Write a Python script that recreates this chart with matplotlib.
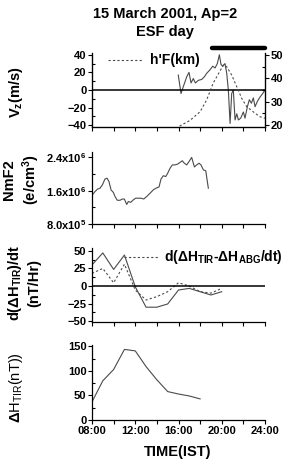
#!/usr/bin/env python3

import matplotlib
matplotlib.use("Agg")
import matplotlib.pyplot as plt
from matplotlib.lines import Line2D

plt.rcParams["font.family"] = ["Liberation Sans", "DejaVu Sans"]
plt.rcParams["font.weight"] = "bold"
plt.rcParams["mathtext.fontset"] = "custom"
plt.rcParams["mathtext.rm"] = "Liberation Sans:bold"
plt.rcParams["mathtext.it"] = "Liberation Sans:bold"
plt.rcParams["mathtext.bf"] = "Liberation Sans:bold"

# Vz (m/s), ionosonde derived vertical drift
vz_hours = [15.98, 16.23, 16.45, 16.76, 16.97, 17.16, 17.37, 17.56, 17.84, 18.15,
            18.39, 18.61, 18.92, 19.16, 19.38, 19.59, 19.78, 19.93, 20.09, 20.30,
            20.46, 20.61, 20.77, 20.92, 21.07, 21.23, 21.39, 21.54, 21.75, 22.00,
            22.15, 22.37, 22.55, 22.74, 22.92, 23.08, 23.29, 23.54, 23.79, 24.00]
vz = [17, -4, 4, 15, 20, 8, 13, 8, 11, 12,
      15, 19, 23, 27, 25, 30, 40, 29, 27, 30,
      19, 0, -38, -4, 0, -34, -27, -34, -32, -25,
      -32, -19, -11, -15, -9, -19, -13, -8, -4, 0]

# h'F (km, right axis)
hf_hours = [16.1, 17.07, 18.0, 18.6, 19.2, 19.7, 20.15, 20.45, 20.92, 21.39,
            21.85, 22.3, 22.9, 23.5, 24.0]
hf = [19.5, 22, 25.7, 30.7, 37.9, 42, 45.7, 45, 41.4, 36.4,
      31.4, 27.9, 25.7, 23.6, 22.9]

# ESF occurrence period (black bar)
esf_start, esf_end = 19.1, 24.0

# NmF2 (e/cm^3)
nm_hours = [8.03, 8.28, 8.52, 8.74, 8.96, 9.2, 9.39, 9.57, 9.76, 9.97,
            10.13, 10.34, 10.59, 10.8, 10.99, 11.21, 11.36, 11.58, 11.82, 12.04,
            12.28, 12.53, 12.78, 13.06, 13.37, 13.67, 13.92, 14.2, 14.38, 14.6,
            14.82, 15.0, 15.22, 15.43, 15.68, 15.93, 16.14, 16.35, 16.54, 16.76,
            16.97, 17.22, 17.47, 17.68, 17.9, 18.08, 18.3, 18.52, 18.76]
nmf2 = [1.50e6, 1.58e6, 1.64e6, 1.66e6, 1.74e6, 1.88e6, 1.90e6, 1.82e6, 1.62e6, 1.56e6,
        1.46e6, 1.37e6, 1.37e6, 1.40e6, 1.40e6, 1.27e6, 1.34e6, 1.32e6, 1.38e6, 1.42e6,
        1.42e6, 1.42e6, 1.40e6, 1.46e6, 1.54e6, 1.62e6, 1.66e6, 1.69e6, 1.88e6, 1.96e6,
        1.94e6, 2.02e6, 2.14e6, 2.22e6, 2.22e6, 2.24e6, 2.28e6, 2.32e6, 2.26e6, 2.22e6,
        2.30e6, 2.40e6, 2.17e6, 2.22e6, 2.26e6, 2.22e6, 2.10e6, 2.08e6, 1.66e6]

# hourly dH/dt (nT/Hr)
dh_hours = [8, 9, 10, 11, 12, 13, 14, 15, 16, 17, 18, 19, 20]
dh_tir = [30, 47, 23.6, 44, -1, -30, -30, -25.4, -5.6, -3.3, -8, -12.7, -8]
dh_diff = [18, 25, 4.7, 31, -5.6, -19.8, -15, -8, 4.7, 0, -8, -10, -3.3]

# Delta H TIR (nT)
h_hours = [8, 9, 10, 11, 12, 13, 14, 15, 16, 17, 18]
h_tir = [37, 80, 103, 144, 141, 109, 82, 58, 53, 49, 43]

xticks = [8, 12, 16, 20, 24]
xticklabels = ["08:00", "12:00", "16:00", "20:00", "24:00"]

W, H = 284, 461
TICK_FS = 8
fig = plt.figure(figsize=(W / 100, H / 100), dpi=100)


def add_ax(top, bottom):
    return fig.add_axes([92 / W, 1 - bottom / H, 173 / W, (bottom - top) / H])


def style(ax, ymaj, ymin, right=False):
    ax.set_xlim(8, 24)
    ax.set_xticks(xticks)
    ax.set_xticks([10, 14, 18, 22], minor=True)
    ax.set_yticks(ymaj)
    ax.set_yticks(ymin, minor=True)
    ax.tick_params(axis="x", which="both", direction="out", length=3, width=0.8)
    ax.tick_params(axis="y", which="major", direction="out", length=3, width=0.8,
                   labelsize=TICK_FS, pad=1)
    ax.tick_params(axis="y", which="minor", direction="in", length=2.5, width=0.8)
    ax.spines["top"].set_visible(False)
    if not right:
        ax.spines["right"].set_visible(False)
    for s in ax.spines.values():
        s.set_linewidth(0.9)
    ax.set_xticklabels([])
    ax.set_facecolor("none")


line_kw = dict(color="#4a4a4a", lw=0.8)
dot_kw = dict(color="#4a4a4a", lw=0.8, ls=(0, (2, 2)))

# --- panel 1: Vz and h'F
ax1 = add_ax(53, 127)
ax1.plot(vz_hours, vz, **line_kw)
ax1.axhline(0, color="black", lw=1.1)
ax1.set_ylim(-42, 42)
style(ax1, [-40, -20, 0, 20, 40], [-30, -10, 10, 30], right=True)
ax1r = ax1.twinx()
ax1r.plot(hf_hours, hf, clip_on=True, **dot_kw)
ax1r.set_ylim(19.14, 50.86)
ax1r.set_yticks([20, 30, 40, 50])
ax1r.set_yticks([25, 35, 45], minor=True)
ax1r.tick_params(axis="y", which="major", direction="out", length=3, width=0.8,
                 labelsize=TICK_FS, pad=1)
ax1r.tick_params(axis="y", which="minor", direction="in", length=2.5, width=0.8)
ax1r.spines["top"].set_visible(False)
ax1r.plot([esf_start, esf_end], [1.07, 1.07], color="black", lw=3.2,
          solid_capstyle="round", transform=ax1r.get_xaxis_transform(), clip_on=False)
ax1r.legend(handles=[Line2D([], [], **dot_kw)], labels=["h'F(km)"], loc="upper left",
            bbox_to_anchor=(0.06, 1.07), frameon=False, handlelength=2.5,
            handletextpad=0.5, borderaxespad=0, prop={"weight": "bold", "size": 10})

# --- panel 2: NmF2
ax2 = add_ax(152, 224)
ax2.plot(nm_hours, nmf2, **line_kw)
ax2.set_ylim(8e5, 2.53e6)
style(ax2, [8e5, 1.6e6, 2.4e6], [1.2e6, 2.0e6])
ax2.set_yticklabels([r"8.0x10$^{5}$", r"1.6x10$^{6}$", r"2.4x10$^{6}$"])

# --- panel 3: dH/dt
ax3 = add_ax(248, 322)
ax3.plot(dh_hours, dh_tir, **line_kw)
ax3.plot(dh_hours, dh_diff, **dot_kw)
ax3.axhline(0, color="black", lw=1.1)
ax3.set_ylim(-51, 54)
style(ax3, [-50, -25, 0, 25, 50], [-37.5, -12.5, 12.5, 37.5])
ax3.legend(handles=[Line2D([], [], **dot_kw)],
           labels=[r"d($\Delta$H$_{TIR}$-$\Delta$H$_{ABG}$/dt)"], loc="upper left",
           bbox_to_anchor=(0.15, 1.07), frameon=False, handlelength=2.5,
           handletextpad=0.4, borderaxespad=0, prop={"weight": "bold", "size": 10})

# --- panel 4: Delta H
ax4 = add_ax(345, 420)
ax4.plot(h_hours, h_tir, **line_kw)
ax4.set_ylim(0, 153)
style(ax4, [0, 50, 100, 150], [25, 75, 125])
ax4.set_xticklabels(xticklabels, fontsize=TICK_FS)
ax4.tick_params(axis="x", pad=1)

# titles and labels
fig.text(165 / W, 1 - 14 / H, "15 March 2001, Ap=2", ha="center", va="center", fontsize=10.5)
fig.text(165 / W, 1 - 32 / H, "ESF day", ha="center", va="center", fontsize=10.5)
fig.text(16 / W, 1 - 92 / H, r"V$_{z}$(m/s)", rotation=90, ha="center", va="center", fontsize=10.5)
fig.text(22 / W, 1 - 180 / H, "NmF2\n" + r"(e/cm$^{3}$)", rotation=90, ha="center",
         va="center", fontsize=10.5, multialignment="center", linespacing=1.3)
fig.text(24 / W, 1 - 283 / H, r"d($\Delta$H$_{TIR}$)/dt" + "\n(nT/Hr)", rotation=90,
         ha="center", va="center", fontsize=10.5, multialignment="center", linespacing=1.3)
fig.text(16 / W, 1 - 388 / H, r"$\Delta$H$_{\mathregular{TIR}}$(nT))", rotation=90,
         ha="center", va="center", fontsize=10.5, fontweight="normal")
fig.text(178 / W, 1 - 452 / H, "TIME(IST)", ha="center", va="center", fontsize=10.5)

fig.savefig("out.png", dpi=100)
